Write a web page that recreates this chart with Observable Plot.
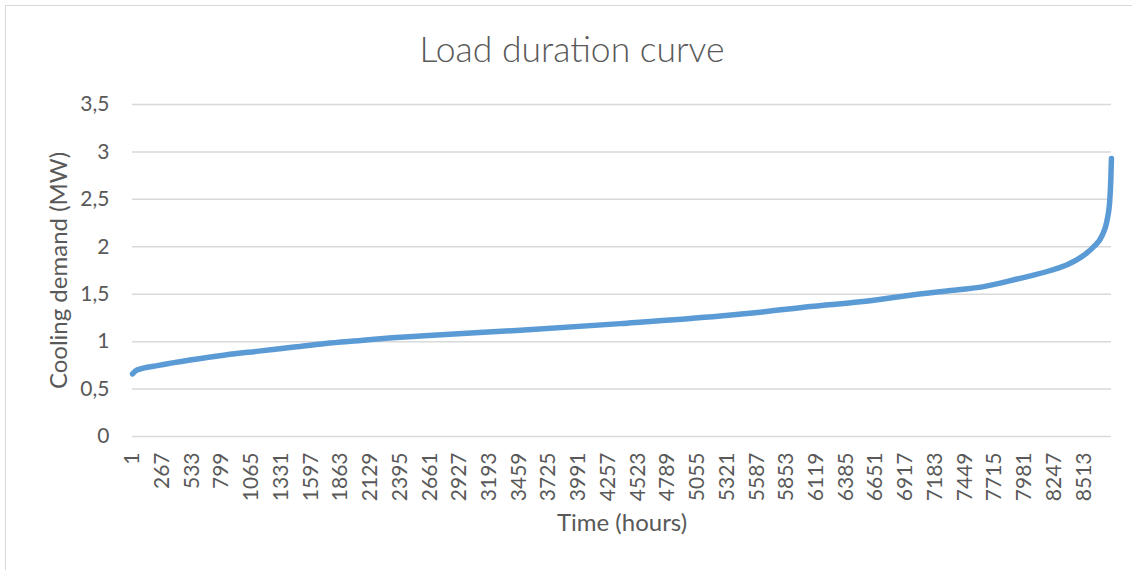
<!DOCTYPE html>
<html>
<head>
<meta charset="utf-8">
<script src="https://cdn.jsdelivr.net/npm/d3@7"></script>
<script src="https://cdn.jsdelivr.net/npm/@observablehq/plot@0.6"></script>
<style>
  body { margin: 0; background: #fff; }
  #wrap { position: relative; width: 1132px; height: 570px; overflow: hidden; font-family: Lato, "Open Sans", sans-serif; color: #595959; }
  #frame { position: absolute; left: 5px; top: 5px; width: 1140px; height: 580px; border-left: 1.5px solid #d9d9d9; border-top: 1.5px solid #d9d9d9; box-sizing: border-box; }
  #title { position: relative; height: 90px; width: 1144px; text-align: center; font-size: 35.5px; font-weight: 300; line-height: 1; padding-top: 31px; box-sizing: border-box; }
  #chart svg { display: block; }
</style>
</head>
<body>
<div id="wrap">
  <div id="frame"></div>
  <div id="title">Load duration curve</div>
  <div id="chart"></div>
</div>
<script>
// Hours (sorted duration) and cooling demand in MW
const hours  = [1, 40, 235, 534, 832, 1130, 1429, 1727, 2022, 2324, 2577, 3472, 4366, 5261, 5619, 6066, 6514, 6961, 7409, 7617, 7916, 8214, 8363, 8512, 8601, 8677, 8721, 8745, 8754, 8760];
const demand = [0.66, 0.70, 0.75, 0.81, 0.86, 0.90, 0.94, 0.98, 1.01, 1.04, 1.06, 1.12, 1.19, 1.27, 1.31, 1.37, 1.42, 1.49, 1.55, 1.58, 1.66, 1.75, 1.81, 1.91, 2.00, 2.12, 2.28, 2.49, 2.70, 2.93];

const xTickLabels = [1, 267, 533, 799, 1065, 1331, 1597, 1863, 2129, 2395, 2661, 2927, 3193, 3459, 3725, 3991, 4257, 4523, 4789, 5055, 5321, 5587, 5853, 6119, 6385, 6651, 6917, 7183, 7449, 7715, 7981, 8247, 8513];
const yTickValues = [0, 0.5, 1, 1.5, 2, 2.5, 3, 3.5];

const titleY = "Cooling demand (MW)";
const titleX = "Time (hours)";

const data = hours.map((h, i) => ({hour: h, demand: demand[i]}));
const fmt = d => String(d).replace(".", ",");

const chart = Plot.plot({
  width: 1132,
  height: 480,
  marginTop: 14,
  marginBottom: 134,
  marginLeft: 132,
  marginRight: 21,
  style: {fontFamily: "Lato, 'Open Sans', sans-serif", fontSize: "21px", color: "#595959", background: "transparent", overflow: "visible"},
  x: {domain: [0.5, 8760.5]},
  y: {domain: [0, 3.5]},
  marks: [
    Plot.gridY(yTickValues, {stroke: "#d9d9d9", strokeOpacity: 1, strokeWidth: 1.5}),
    Plot.axisY(yTickValues, {tickSize: 0, tickPadding: 23, tickFormat: fmt, label: null, fill: "#595959", fontSize: 21}),
    Plot.axisX(xTickLabels, {tickSize: 0, tickRotate: -90, tickPadding: 16, tickFormat: d => String(d), label: null, fill: "#595959", fontSize: 21}),
    Plot.text([titleY], {frameAnchor: "left", rotate: -90, dx: -73, fontSize: 24, fill: "#595959", textAnchor: "middle"}),
    Plot.text([titleX], {frameAnchor: "bottom", dy: 94, fontSize: 24, fill: "#595959", textAnchor: "middle"}),
    Plot.line(data, {x: "hour", y: "demand", stroke: "#5b9bd5", strokeWidth: 5.5, curve: "monotone-x", strokeLinecap: "round", strokeLinejoin: "round"})
  ]
});
document.getElementById("chart").appendChild(chart);
</script>
</body>
</html>
